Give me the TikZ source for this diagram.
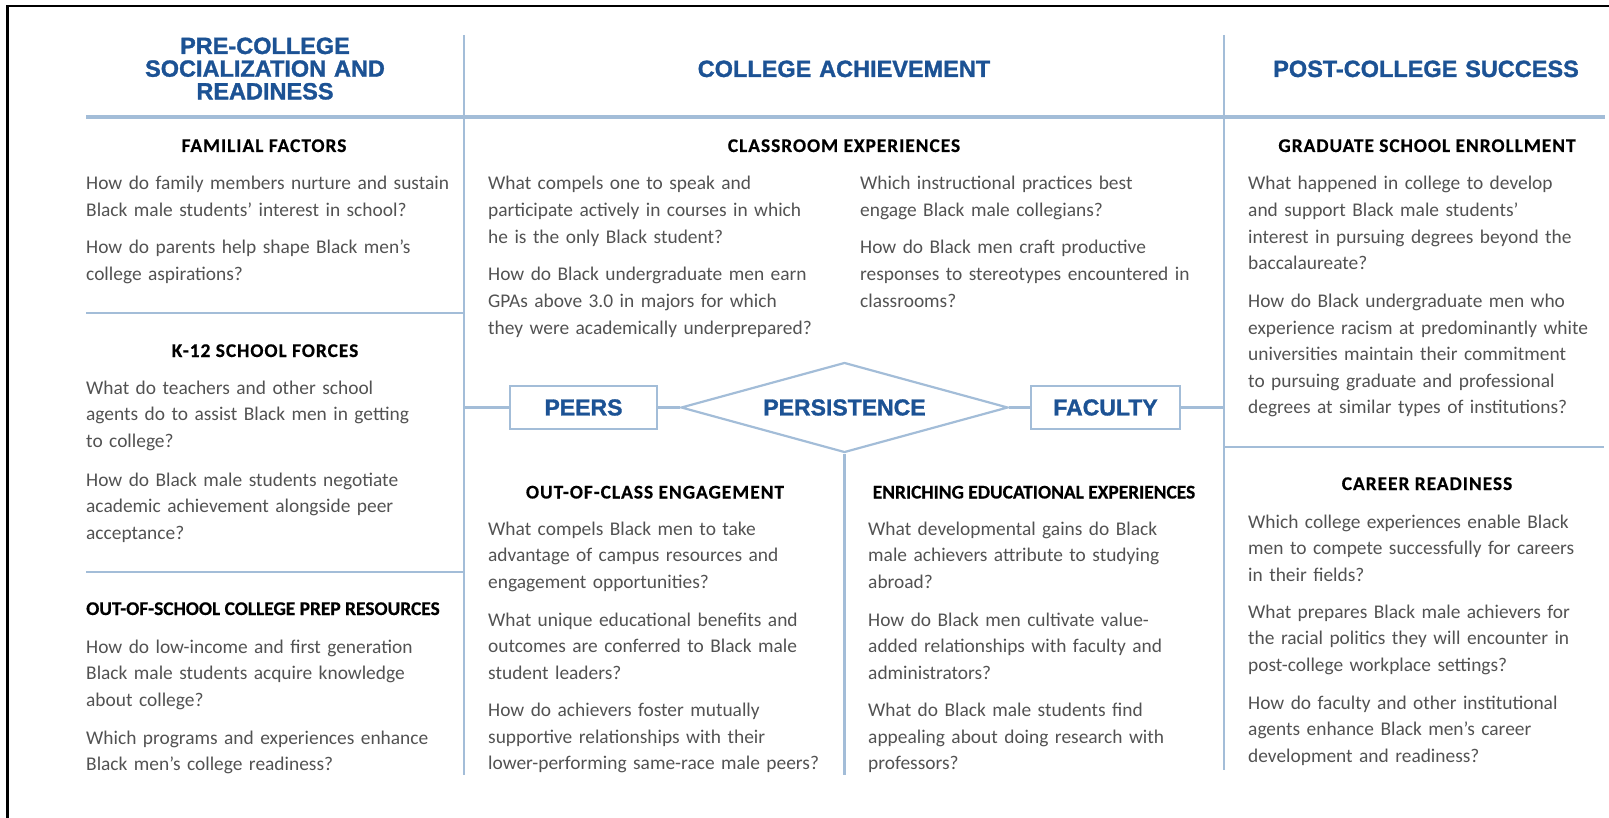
\documentclass[tikz,border=0pt]{standalone}
\usepackage{fontspec}
\setmainfont{Carlito}[BoldFeatures={FakeBold=0.5}]
\newfontfamily\secwide[LetterSpace=5, BoldFeatures={FakeBold=0.5}]{Carlito}
\newfontfamily\blhead[BoldFeatures={FakeBold=1.3}]{Liberation Sans}
\usetikzlibrary{shapes.geometric}
\definecolor{hblue}{RGB}{28,82,148}
\definecolor{rulecol}{RGB}{163,189,216}
\definecolor{bodycol}{RGB}{82,82,82}
\tikzset{
  colhead/.style={font=\blhead\bfseries\fontsize{23.5}{22.7}\selectfont, text=hblue,
    text width=380, align=center, anchor=base, inner sep=0},
  sechead/.style={font=\secwide\bfseries\fontsize{19.4}{24}\selectfont, anchor=base, inner sep=0},
  sectight/.style={font=\bfseries\fontsize{19.4}{24}\selectfont, anchor=base, inner sep=0},
  ques/.style={font=\fontsize{19.4}{26.6}\selectfont, text=bodycol, text width=400,
    align=left, anchor=base west, inner sep=0},
  rulel/.style={draw=rulecol, line width=2.2},
  ruleh/.style={draw=rulecol, line width=3.6},
  factor/.style={draw=rulecol, line width=2.2, text=hblue, inner sep=0,
    font=\blhead\bfseries\fontsize{23}{23}\selectfont},
}
\begin{document}
\begin{tikzpicture}[x=1pt,y=-1pt]
\useasboundingbox (0,0) rectangle (1609,818);

% outer frame (top and left edges)
\draw[line width=2.5] (7.5,818) -- (7.5,6) -- (1609,6);

% grid of rules
\coordinate (vlTop) at (464,35);   \coordinate (vlBot) at (464,775);
\coordinate (vrTop) at (1224,35);  \coordinate (vrBot) at (1224,770);
\coordinate (hdL) at (86,117);     \coordinate (hdR) at (1605,117);
\coordinate (s1L) at (86,313);     \coordinate (s1R) at (464,313);
\coordinate (s2L) at (86,572);     \coordinate (s2R) at (464,572);
\coordinate (s3L) at (1224,447);   \coordinate (s3R) at (1604,447);
\draw[ruleh] (hdL) -- (hdR);
\draw[rulel] (vlTop) -- (vlBot);
\draw[rulel] (vrTop) -- (vrBot);
\draw[rulel] (s1L) -- (s1R);
\draw[rulel] (s2L) -- (s2R);
\draw[rulel] (s3L) -- (s3R);

% column headings
\node[colhead] (hpre) at (265,54) {PRE-COLLEGE\\SOCIALIZATION AND\\READINESS};
\node[colhead, text width=600] (hcol) at (844,77) {COLLEGE ACHIEVEMENT};
\node[colhead] (hpost) at (1426,77) {POST-COLLEGE SUCCESS};

% left column
\node[sechead] (famh) at (264,152) {FAMILIAL FACTORS};
\node[ques] (fam1) at (86,190) {How do family members nurture and sustain\\Black male students’ interest in school?};
\node[ques] (fam2) at (86,254) {How do parents help shape Black men’s\\college aspirations?};

\node[sechead] (k12h) at (265,357) {K-12 SCHOOL FORCES};
\node[ques] (k121) at (86,394) {What do teachers and other school\\agents do to assist Black men in getting\\to college?};
\node[ques] (k122) at (86,486) {How do Black male students negotiate\\academic achievement alongside peer\\acceptance?};

\node[sectight, anchor=base west] (oosh) at (86,615) {OUT-OF-SCHOOL COLLEGE PREP RESOURCES};
\node[ques] (oos1) at (86,653) {How do low-income and first generation\\Black male students acquire knowledge\\about college?};
\node[ques] (oos2) at (86,744) {Which programs and experiences enhance\\Black men’s college readiness?};

% middle column, upper part
\node[sechead] (clsh) at (844,152) {CLASSROOM EXPERIENCES};
\node[ques] (cls1) at (488,190) {What compels one to speak and\\participate actively in courses in which\\he is the only Black student?};
\node[ques] (cls2) at (488,281) {How do Black undergraduate men earn\\GPAs above 3.0 in majors for which\\they were academically underprepared?};
\node[ques] (cls3) at (860,190) {Which instructional practices best\\engage Black male collegians?};
\node[ques] (cls4) at (860,254) {How do Black men craft productive\\responses to stereotypes encountered in\\classrooms?};

% persistence model
\node[factor, minimum width=147, minimum height=43] (peers) at (583.5,407.5) {PEERS};
\node[factor, diamond, aspect=3.63, minimum width=327, minimum height=90] (pers) at (844.5,407.5) {PERSISTENCE};
\node[factor, minimum width=149, minimum height=43] (fac) at (1105.5,407.5) {FACULTY};
\coordinate (jl) at (464,407.5);
\coordinate (jr) at (1224,407.5);
\coordinate (cBot) at (844.5,775);
\draw[rulel] (jl) -- (peers.west);
\draw[rulel] (peers.east) -- (pers.west);
\draw[rulel] (pers.east) -- (fac.west);
\draw[rulel] (fac.east) -- (jr);
\draw[rulel] (pers.south) -- (cBot);

% middle column, lower part
\node[sechead] (ocah) at (655,498.5) {OUT-OF-CLASS ENGAGEMENT};
\node[ques] (oca1) at (488,535) {What compels Black men to take\\advantage of campus resources and\\engagement opportunities?};
\node[ques] (oca2) at (488,626) {What unique educational benefits and\\outcomes are conferred to Black male\\student leaders?};
\node[ques] (oca3) at (488,716.5) {How do achievers foster mutually\\supportive relationships with their\\lower-performing same-race male peers?};

\node[sectight] (enrh) at (1034,498.5) {ENRICHING EDUCATIONAL EXPERIENCES};
\node[ques] (enr1) at (868,535) {What developmental gains do Black\\male achievers attribute to studying\\abroad?};
\node[ques] (enr2) at (868,626) {How do Black men cultivate value-\\added relationships with faculty and\\administrators?};
\node[ques] (enr3) at (868,716.5) {What do Black male students find\\appealing about doing research with\\professors?};

% right column
\node[sechead] (grdh) at (1427,152) {GRADUATE SCHOOL ENROLLMENT};
\node[ques] (grd1) at (1248,190) {What happened in college to develop\\and support Black male students’\\interest in pursuing degrees beyond the\\baccalaureate?};
\node[ques] (grd2) at (1248,307.5) {How do Black undergraduate men who\\experience racism at predominantly white\\universities maintain their commitment\\to pursuing graduate and professional\\degrees at similar types of institutions?};

\node[sechead] (carh) at (1427,490) {CAREER READINESS};
\node[ques] (car1) at (1248,528) {Which college experiences enable Black\\men to compete successfully for careers\\in their fields?};
\node[ques] (car2) at (1248,618) {What prepares Black male achievers for\\the racial politics they will encounter in\\post-college workplace settings?};
\node[ques] (car3) at (1248,709) {How do faculty and other institutional\\agents enhance Black men’s career\\development and readiness?};
\end{tikzpicture}
\end{document}
